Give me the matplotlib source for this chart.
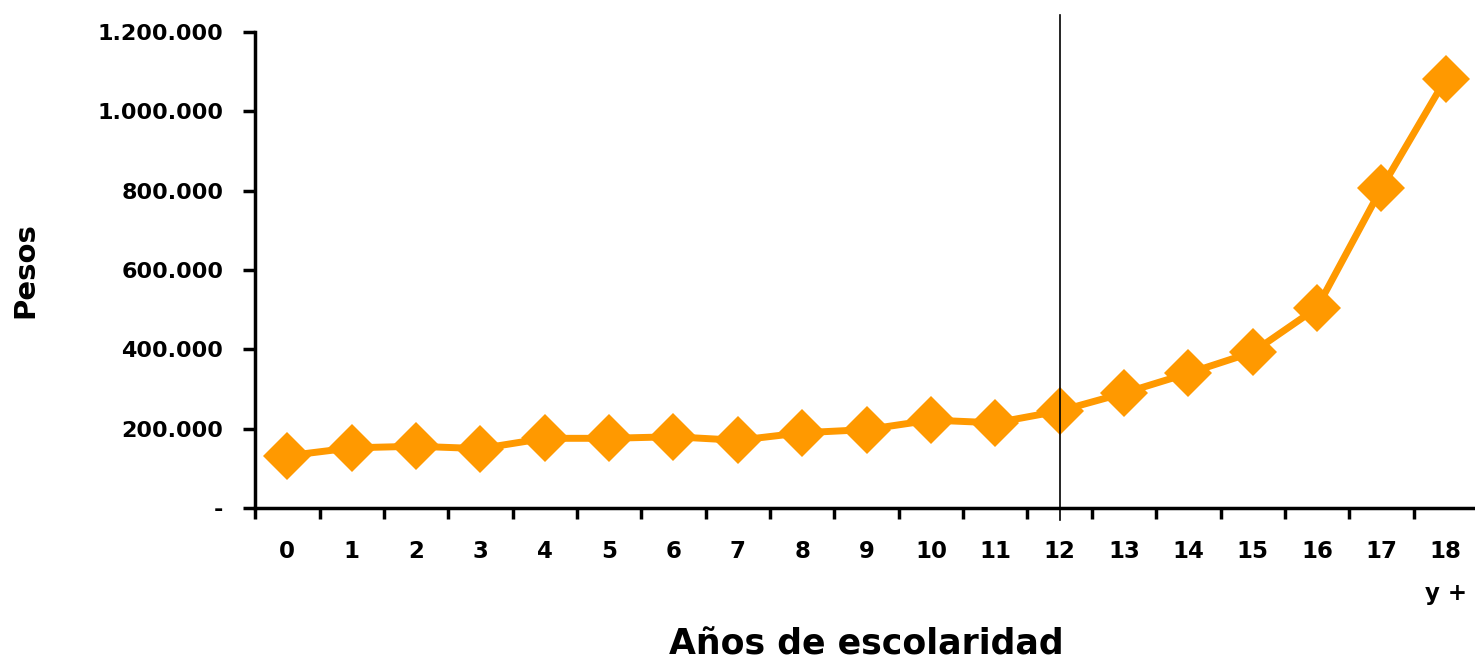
import matplotlib
matplotlib.use("Agg")
import matplotlib.pyplot as plt
from matplotlib.ticker import FuncFormatter

plt.rcParams['font.family'] = ['DejaVu Sans']
plt.rcParams['font.weight'] = 'bold'

years = ['0', '1', '2', '3', '4', '5', '6', '7', '8', '9', '10',
         '11', '12', '13', '14', '15', '16', '17', '18\ny +']
pesos = [132000, 152000, 156000, 150000, 176000, 176000, 180000, 171000,
         190000, 198000, 222000, 215000, 245000, 290000, 340000, 393000,
         505000, 806000, 1082000]
y_ticks = [0, 200000, 400000, 600000, 800000, 1000000, 1200000]
split_year = 12

def fmt(v, pos):
    if v == 0:
        return '-'
    return f"{int(v):,}".replace(',', '.')

fig = plt.figure(figsize=(14.75, 6.66), dpi=100)
ax = fig.add_axes([0.173, 0.237, 0.829, 0.715])

x = list(range(len(years)))
ax.plot(x, pesos, color='#FF9900', lw=5, marker='D', markersize=24,
        markeredgewidth=0, solid_joinstyle='round')

ax.axvline(split_year, ymin=-0.025, ymax=1.035, color='black', lw=1.2,
           clip_on=False)

ax.set_xlim(-0.5, len(years) - 0.5)
ax.set_ylim(0, 1200000)
ax.set_yticks(y_ticks)
ax.yaxis.set_major_formatter(FuncFormatter(fmt))
ax.set_xticks(x)
ax.set_xticklabels(years, linespacing=2.05)
ax.set_xticks([i - 0.5 for i in range(len(years) + 1)], minor=True)

ax.tick_params(axis='x', which='major', length=0, pad=23, labelsize=16.5)
ax.tick_params(axis='x', which='minor', length=8, width=2.5, direction='out')
ax.tick_params(axis='y', length=9, width=2.5, pad=14, labelsize=16)

for s in ['top', 'right']:
    ax.spines[s].set_visible(False)
for s in ['left', 'bottom']:
    ax.spines[s].set_linewidth(2.5)

ax.set_xlabel('Años de escolaridad', fontsize=25, fontweight='bold', labelpad=16)
ax.set_ylabel('Pesos', fontsize=21, fontweight='bold', labelpad=42)

fig.savefig('out.png', dpi=100)
